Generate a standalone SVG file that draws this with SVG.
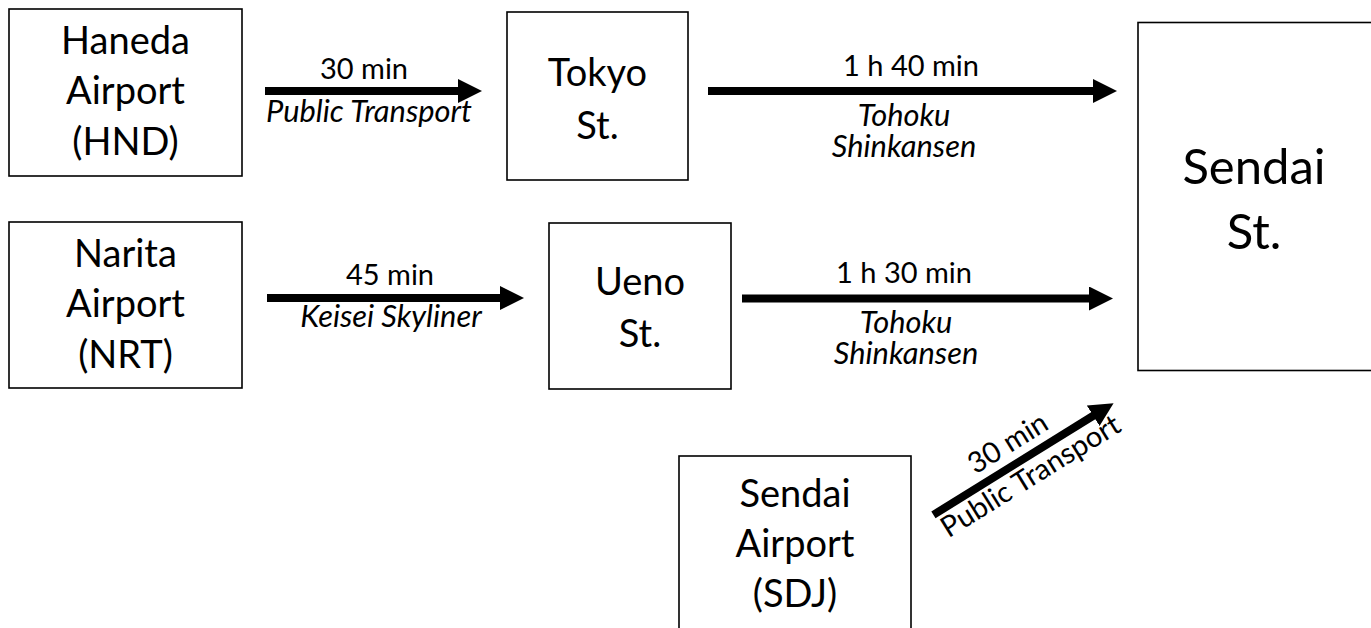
<svg xmlns="http://www.w3.org/2000/svg" width="1371" height="628" viewBox="0 0 1371 628">
<style>
.box{fill:#fff;stroke:#000;stroke-width:1.6}
.nt{font-family:Lato,"Liberation Sans",sans-serif;font-size:38px;fill:#000;text-anchor:middle}
.big{font-size:49px}
.lb{font-family:Lato,"Liberation Sans",sans-serif;font-size:29px;fill:#000;text-anchor:middle}
.it{font-style:italic;font-size:30.8px}
.ar{stroke:#000;stroke-width:8;fill:none;marker-end:url(#ah)}
</style>
<defs>
<marker id="ah" viewBox="0 0 10 10" refX="2" refY="5" markerWidth="3" markerHeight="3" orient="auto" markerUnits="strokeWidth" preserveAspectRatio="none"><path d="M0,0L10,5L0,10z" fill="#000"/></marker>
</defs>
<rect width="1371" height="628" fill="#fff"/>
<g id="hnd"><rect class="box" x="9" y="9" width="233" height="167"/><text class="nt"><tspan x="125.5" y="54">Haneda</tspan><tspan x="125.5" y="104">Airport</tspan><tspan x="125.5" y="155">(HND)</tspan></text></g>
<g id="nrt"><rect class="box" x="9" y="222" width="233" height="166"/><text class="nt"><tspan x="125.5" y="267">Narita</tspan><tspan x="125.5" y="317">Airport</tspan><tspan x="125.5" y="368">(NRT)</tspan></text></g>
<g id="tokyo"><rect class="box" x="507" y="12" width="181" height="168"/><text class="nt"><tspan x="597.5" y="86">Tokyo</tspan><tspan x="597.5" y="139">St.</tspan></text></g>
<g id="ueno"><rect class="box" x="549" y="223" width="182" height="166"/><text class="nt"><tspan x="640" y="295">Ueno</tspan><tspan x="640" y="347">St.</tspan></text></g>
<g id="sendai-st"><rect class="box" x="1138" y="22.5" width="260" height="348"/><text class="nt big"><tspan x="1254" y="184">Sendai</tspan><tspan x="1254" y="249">St.</tspan></text></g>
<g id="sdj"><rect class="box" x="679" y="456" width="232" height="200"/><text class="nt"><tspan x="795" y="507">Sendai</tspan><tspan x="795" y="557">Airport</tspan><tspan x="795" y="607">(SDJ)</tspan></text></g>
<g id="connectors">
<line class="ar" x1="265" y1="91" x2="462.8" y2="91"/>
<text class="lb" x="364" y="79">30 min</text>
<text class="lb it" x="369" y="122">Public Transport</text>
<line class="ar" x1="708" y1="91" x2="1097.8" y2="91"/>
<text class="lb" x="911" y="76">1 h 40 min</text>
<text class="lb it"><tspan x="904" y="126">Tohoku</tspan><tspan x="904" y="157">Shinkansen</tspan></text>
<line class="ar" x1="267" y1="298" x2="504.8" y2="298"/>
<text class="lb" x="390" y="285">45 min</text>
<text class="lb it" x="391" y="327">Keisei Skyliner</text>
<line class="ar" x1="742" y1="298.5" x2="1093.8" y2="298.5"/>
<text class="lb" x="904" y="283">1 h 30 min</text>
<text class="lb it"><tspan x="906" y="333">Tohoku</tspan><tspan x="906" y="364">Shinkansen</tspan></text>
<g transform="translate(1023.5,459) rotate(-31.8)">
<line class="ar" x1="-106" y1="0" x2="86.8" y2="0"/>
<text class="lb" x="-5" y="-12">30 min</text>
<text class="lb" x="-3" y="28" font-size="30.5">Public Transport</text>
</g>
</g>
</svg>
